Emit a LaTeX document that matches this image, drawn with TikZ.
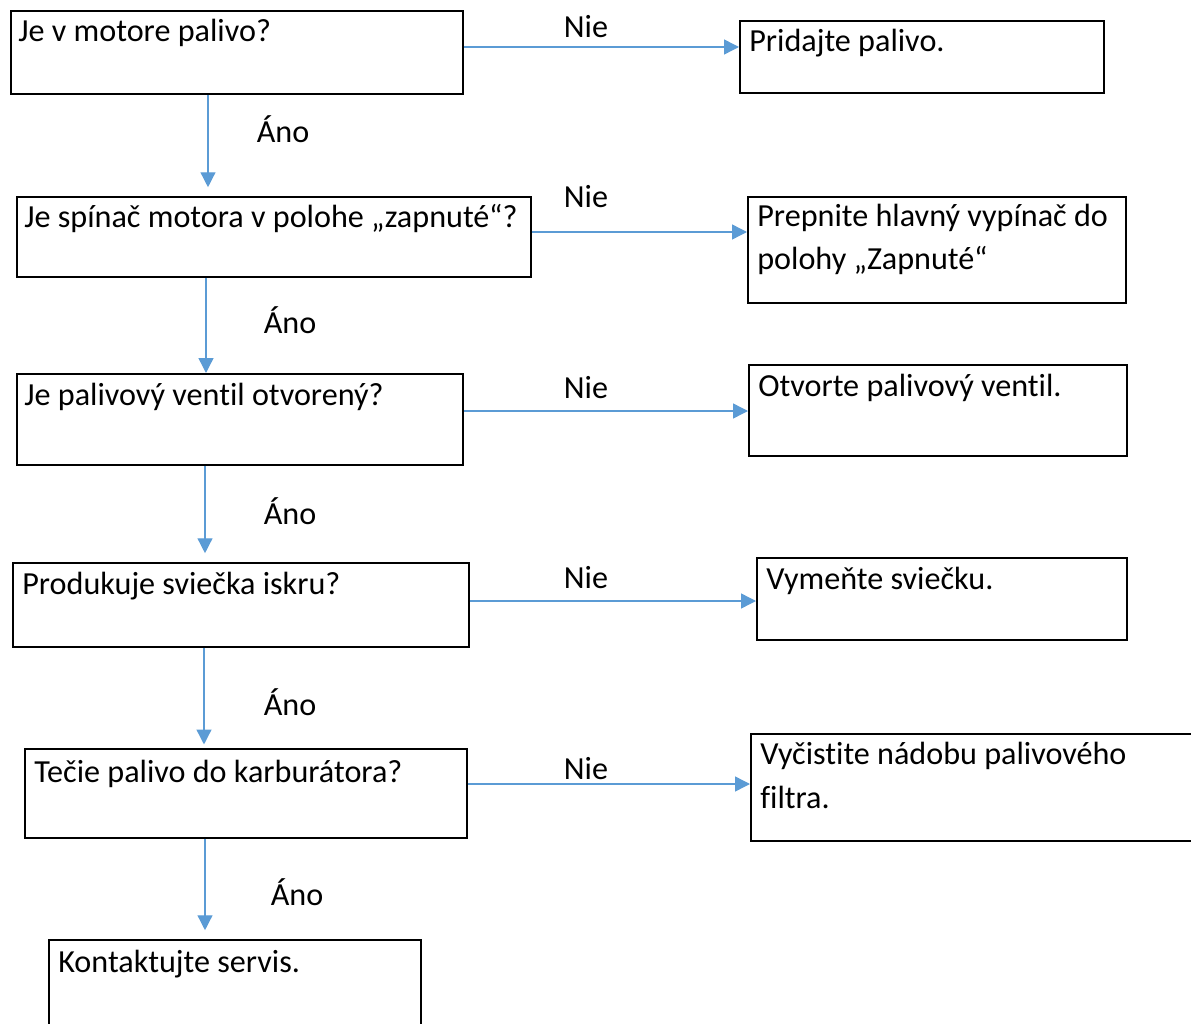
\documentclass[tikz,border=0pt]{standalone}
\usepackage{fontspec}
\setmainfont{Carlito}[Ligatures=NoCommon]
\usetikzlibrary{arrows.meta}
\definecolor{arrblue}{HTML}{5B9BD5}

\begin{document}
\begin{tikzpicture}[x=0.02cm, y=-0.02cm,
		box/.style={draw, line width=1.1pt, anchor=north west, inner sep=0pt},
		txt/.style={anchor=base west, inner sep=0pt, align=left, font=\fontsize{18.3}{24.5}\selectfont},
		lbl/.style={anchor=base, inner sep=0pt, font=\fontsize{18.3}{22}\selectfont},
		arr/.style={draw=arrblue, line width=0.8pt, -{Triangle[length=8.5pt, width=8.5pt]}}]
			\useasboundingbox (0,0) rectangle (1191,1024);
			\clip (0,0) rectangle (1191,1024);
			% question boxes
			\node[box, minimum width=9.04cm, minimum height=1.66cm] (q1) at (10,10) {};
			\node[box, minimum width=10.28cm, minimum height=1.60cm] (q2) at (16,196) {};
			\node[box, minimum width=8.92cm, minimum height=1.82cm] (q3) at (16,373) {};
			\node[box, minimum width=9.12cm, minimum height=1.68cm] (q4) at (12,562) {};
			\node[box, minimum width=8.84cm, minimum height=1.78cm] (q5) at (24,748) {};
			\node[box, minimum width=7.44cm, minimum height=2.42cm] (end) at (48,939) {};
			% answer boxes
			\node[box, minimum width=7.28cm, minimum height=1.44cm] (a1) at (739,20) {};
			\node[box, minimum width=7.56cm, minimum height=2.12cm] (a2) at (747,196) {};
			\node[box, minimum width=7.56cm, minimum height=1.82cm] (a3) at (748,364) {};
			\node[box, minimum width=7.40cm, minimum height=1.64cm] (a4) at (756,557) {};
			\node[box, minimum width=9.20cm, minimum height=2.14cm] (a5) at (750,733) {};
			% texts (base = last line)
			\node[txt] (q1t) at (18,42) {Je v motore palivo?};
			\node[txt] (q2t) at (24,228) {Je spínač motora v polohe „zapnuté“?};
			\node[txt] (q3t) at (24,405) {Je palivový ventil otvorený?};
			\node[txt] (q4t) at (22,594) {Produkuje sviečka iskru?};
			\node[txt] (q5t) at (34,782) {Tečie palivo do karburátora?};
			\node[txt] (endt) at (58,972) {Kontaktujte servis.};
			\node[txt] (a1t) at (749,52) {Pridajte palivo.};
			\node[txt] (a2t) at (757,270) {Prepnite hlavný vypínač do\\polohy „Zapnuté“};
			\node[txt] (a3t) at (758,396) {Otvorte palivový ventil.};
			\node[txt] (a4t) at (766,589) {Vymeňte sviečku.};
			\node[txt] (a5t) at (760,808) {Vyčistite nádobu palivového\\filtra.};
			% connector heights
			\coordinate (h1) at (0,47);
			\coordinate (h2) at (0,232);
			\coordinate (h3) at (0,411);
			\coordinate (h4) at (0,601);
			\coordinate (h5) at (0,784);
			\coordinate (v1) at (208,0);
			\coordinate (v2) at (206,0);
			\coordinate (v3) at (205,0);
			\coordinate (v4) at (204,0);
			\coordinate (v5) at (205,0);
			% Nie
			\draw[arr] (q1.east |- h1) -- (a1.west |- h1);
			\draw[arr] (q2.east |- h2) -- (a2.west |- h2);
			\draw[arr] (q3.east |- h3) -- (a3.west |- h3);
			\draw[arr] (q4.east |- h4) -- (a4.west |- h4);
			\draw[arr] (q5.east |- h5) -- (a5.west |- h5);
			\node[lbl] (n1) at (586,38) {Nie};
			\node[lbl] (n2) at (586,208) {Nie};
			\node[lbl] (n3) at (586,398) {Nie};
			\node[lbl] (n4) at (586,588) {Nie};
			\node[lbl] (n5) at (586,779) {Nie};
			% Áno
			\draw[arr, shorten >=5pt] (q1.south -| v1) -- (q2.north -| v1);
			\draw[arr, shorten >=0pt] (q2.south -| v2) -- (q3.north -| v2);
			\draw[arr, shorten >=5pt] (q3.south -| v3) -- (q4.north -| v3);
			\draw[arr, shorten >=2pt] (q4.south -| v4) -- (q5.north -| v4);
			\draw[arr, shorten >=5pt] (q5.south -| v5) -- (end.north -| v5);
			\node[lbl] (y1) at (283,143) {Áno};
			\node[lbl] (y2) at (290,333) {Áno};
			\node[lbl] (y3) at (290,524) {Áno};
			\node[lbl] (y4) at (290,715) {Áno};
			\node[lbl] (y5) at (297,905) {Áno};
	\end{tikzpicture}
\end{document}
